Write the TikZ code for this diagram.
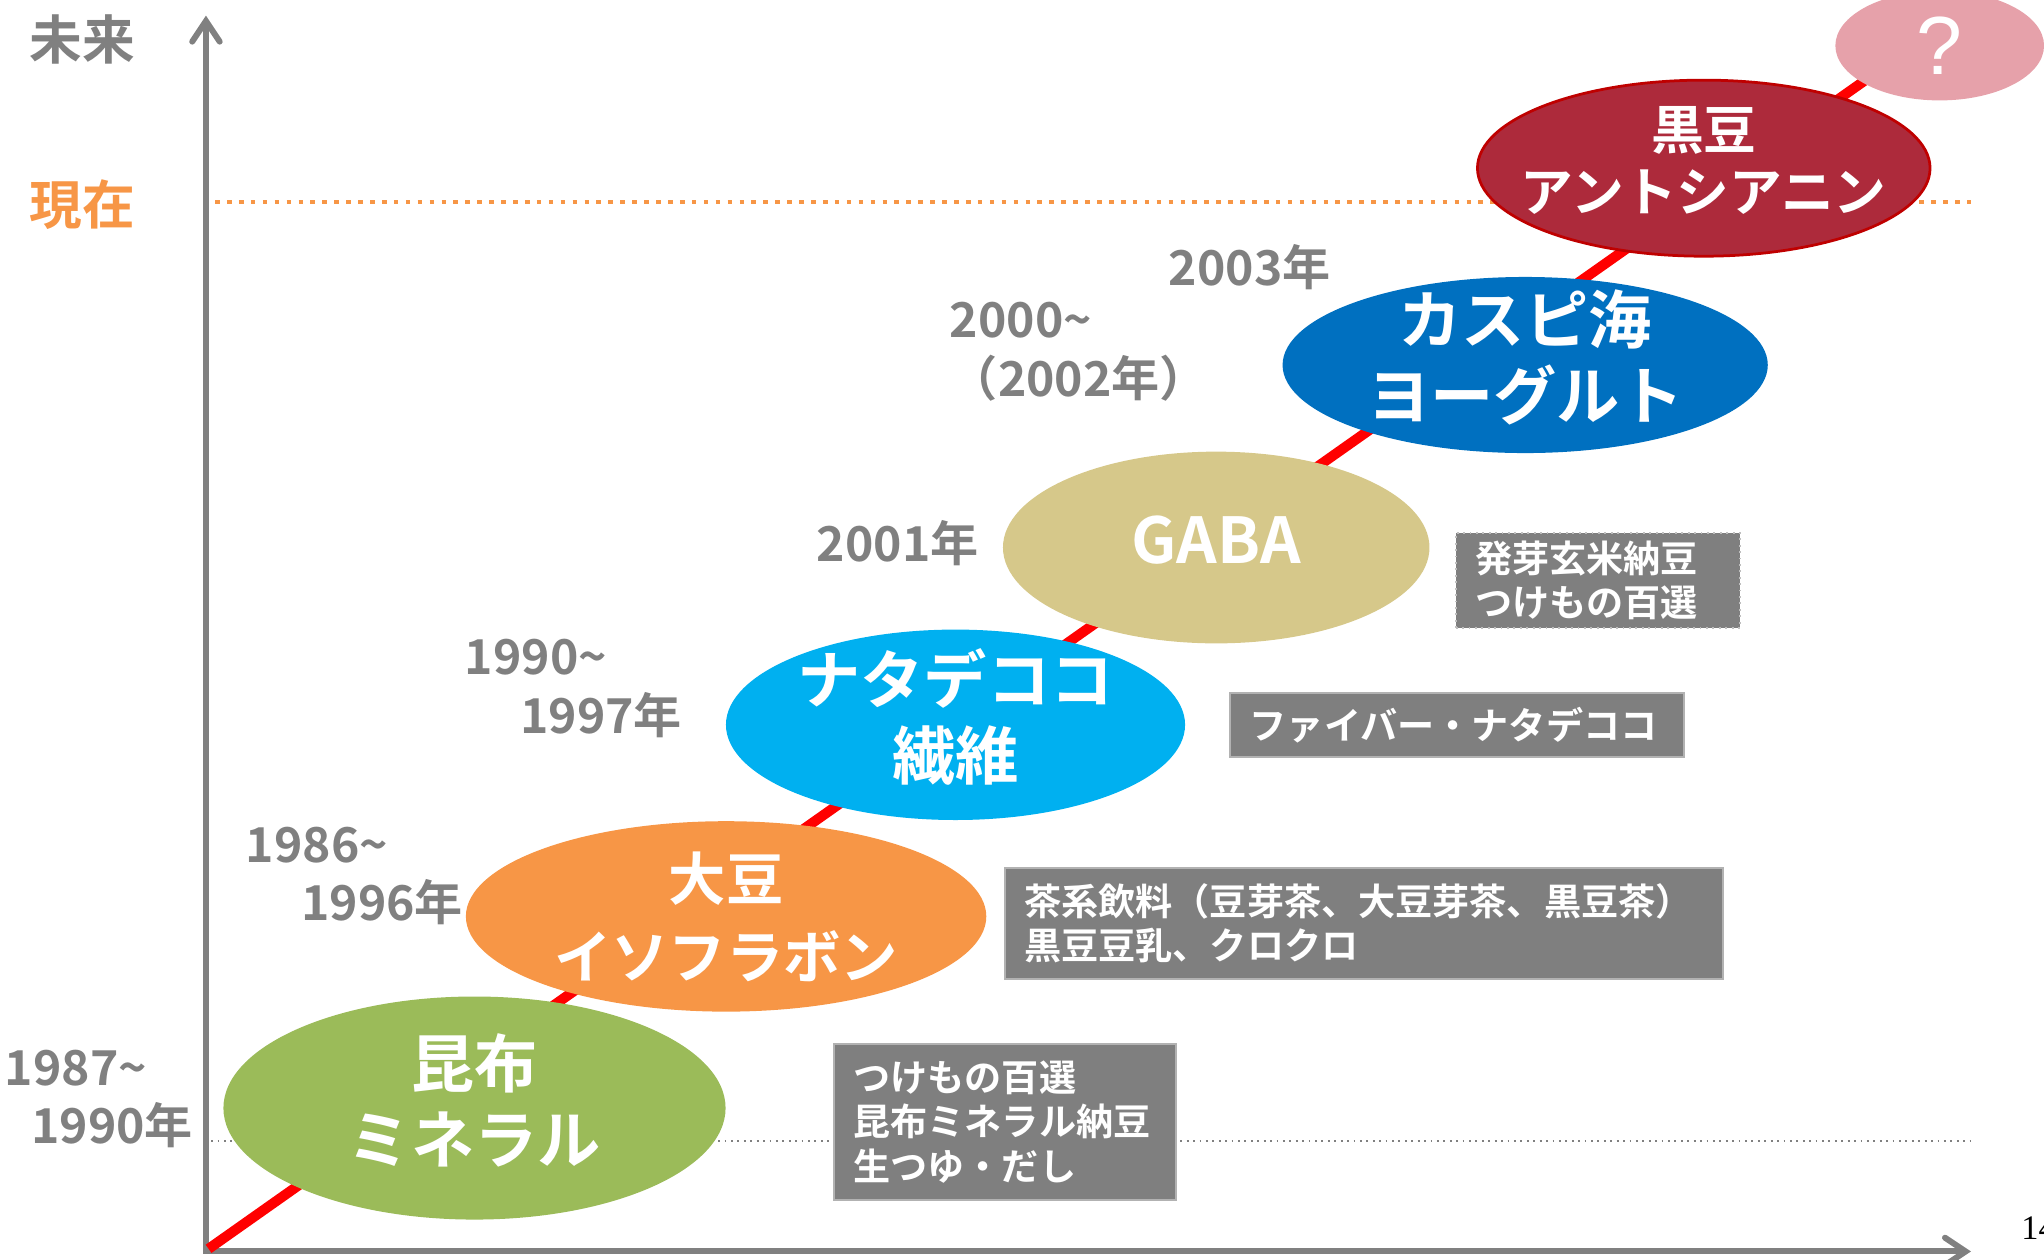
\documentclass[tikz,border=0pt]{standalone}
\usepackage{fontspec}
\setmainfont{Noto Sans CJK JP}[BoldFont=* Bold]
\newfontfamily\pagefont{Liberation Serif}
\newfontfamily\qfont{Liberation Sans}
\usetikzlibrary{shapes.geometric,arrows.meta}
\definecolor{axisgray}{HTML}{808080}
\definecolor{nowcol}{HTML}{F79646}
\definecolor{kombucol}{HTML}{9BBB59}
\definecolor{daizucol}{HTML}{F79646}
\definecolor{natacol}{HTML}{00B0F0}
\definecolor{gabacol}{HTML}{D6C88A}
\definecolor{caspicol}{HTML}{0070C0}
\definecolor{kuromamecol}{HTML}{AD2A3B}
\definecolor{futurecol}{HTML}{E6A1AA}
\definecolor{boxcol}{HTML}{7F7F7F}

\begin{document}
\begin{tikzpicture}[x=0.01cm,y=-0.01cm,
    axis/.style={draw=axisgray,line width=1.3pt,line join=miter,
      {Straight Barb[length=4.5pt,width=6pt,line cap=round]}-{Straight Barb[length=4.5pt,width=6pt,line cap=round]}},
    blob/.style={ellipse,inner sep=0,outer sep=0},
    blobtext/.style={text=white,align=center,inner sep=0,yshift=0.06cm,
      font=\bfseries\fontsize{13.8}{16.5}\selectfont},
    infobox/.style={anchor=north west,fill=boxcol,draw=black!30,line width=0.4pt,
      text=white,align=left,inner xsep=0.15cm,inner ysep=0,
      font=\bfseries\fontsize{8.1}{9.7}\selectfont},
    year/.style={anchor=west,inner sep=0,text=axisgray,align=left,
      font=\bfseries\fontsize{10.5}{12.8}\selectfont}]
  \useasboundingbox (0,0) rectangle (1568,966);

  % axes and guide lines
  \coordinate (O) at (158,960);
  \coordinate (ytop) at (158,12);
  \coordinate (xend) at (1512,960);
  \draw[axis] (ytop) -- (O) -- (xend);
  \coordinate (now) at (165,155);
  \coordinate (nowend) at (1512,155);
  \draw[nowcol,line width=1pt,dash pattern=on 1pt off 1.6pt] (now) -- (nowend);
  \coordinate (base) at (162,875);
  \coordinate (baseend) at (1512,875);
  \draw[axisgray,line width=0.4pt,densely dotted] (base) -- (baseend);
  \node[text=axisgray,font=\bfseries\fontsize{11.5}{14}\selectfont] (mirai) at (63,30) {未来};
  \node[text=nowcol,font=\bfseries\fontsize{11.5}{14}\selectfont] (genzai) at (63,157) {現在};

  % trend
  \coordinate (tstart) at (160,958);
  \coordinate (tend) at (1460,41);
  \draw[red,line width=2.2pt] (tstart) -- (tend);

  \node[blob,fill=kombucol,minimum width=3.85cm,minimum height=1.71cm,
    label={[blobtext]center:昆布\\ミネラル}] (kombu) at (364,850) {};
  \node[blob,fill=daizucol,minimum width=3.99cm,minimum height=1.46cm,
    label={[blobtext,yshift=-0.06cm,font=\bfseries\fontsize{12.5}{17}\selectfont]center:大豆\\イソフラボン}] (daizu) at (557,703) {};
  \node[blob,fill=natacol,minimum width=3.52cm,minimum height=1.46cm,
    label={[blobtext]center:ナタデココ\\繊維}] (nata) at (733,556) {};
  \node[blob,fill=gabacol,minimum width=3.27cm,minimum height=1.47cm,
    label={[blobtext]center:GABA}] (gaba) at (933,420) {};
  \node[blob,fill=caspicol,minimum width=3.72cm,minimum height=1.35cm,
    label={[blobtext]center:カスピ海\\ヨーグルト}] (caspi) at (1170,280) {};
  \node[blob,fill=kuromamecol,draw=red!75!black,line width=0.6pt,minimum width=3.47cm,minimum height=1.35cm,
    label={[blobtext,font=\bfseries\fontsize{11.5}{13.7}\selectfont]center:黒豆\\アントシアニン}] (kuromame) at (1307,129) {};
  \node[blob,fill=futurecol,minimum width=1.6cm,minimum height=0.84cm,
    label={[text=white,inner sep=0,font=\qfont\fontsize{18}{20}\selectfont]center:?}] (future) at (1488,35) {};

  % products
  \node[infobox,text width=2.32cm,minimum height=1.2cm] (box1) at (639,800)
    {つけもの百選\\昆布ミネラル納豆\\生つゆ・だし};
  \node[infobox,text width=5.21cm,minimum height=0.85cm] (box2) at (770,665)
    {茶系飲料（豆芽茶、大豆芽茶、黒豆茶）\\黒豆豆乳、クロクロ};
  \node[infobox,text width=3.18cm,minimum height=0.49cm] (box3) at (943,531)
    {ファイバー・ナタデココ};
  \node[infobox,draw=black!25,densely dotted,text width=1.88cm,minimum height=0.73cm] (box4) at (1116,408)
    {発芽玄米納豆\\つけもの百選};

  % years
  \foreach \x/\y/\txt [count=\i] in {3/843/{1987\textasciitilde\\\hspace*{0.55em}1990年},
      188/672/{1986\textasciitilde\\\hspace*{1.15em}1996年},
      356/528/{1990\textasciitilde\\\hspace*{1.15em}1997年},
      626/417/{2001年},
      728/270/{2000\textasciitilde\\（2002年）},
      896/205/{2003年}}
    \node[year] (year\i) at (\x,\y) {\txt};

  \node[anchor=west,inner sep=0,font=\pagefont\fontsize{7.5}{9}\selectfont] (page) at (1550,942) {14};
\end{tikzpicture}
\end{document}
